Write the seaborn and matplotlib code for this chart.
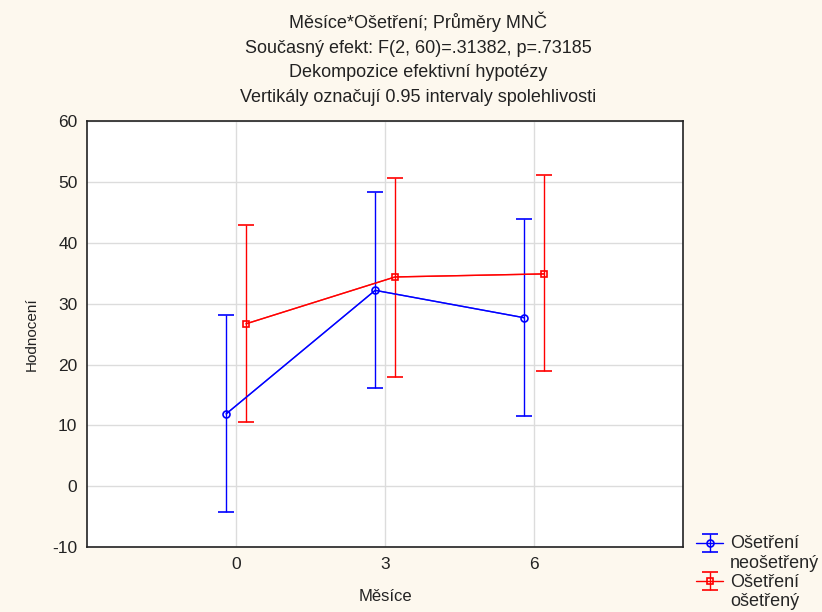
import pandas as pd
import matplotlib
matplotlib.use('Agg')
import matplotlib.pyplot as plt
import seaborn as sns

# ===== Data =====
mesice = [0, 3, 6]
neo_mean = [11.9, 32.2, 27.7]
neo_low = [-4.2, 16.1, 11.5]
neo_high = [28.1, 48.4, 43.9]
ose_mean = [26.7, 34.4, 34.9]
ose_low = [10.6, 18.0, 18.9]
ose_high = [42.9, 50.6, 51.2]

skupiny = ['neošetřený', 'ošetřený']
barvy = {'neošetřený': '#0000ff', 'ošetřený': '#ff0000'}
znacky = {'neošetřený': 'o', 'ošetřený': 's'}
posun = {'neošetřený': -0.2, 'ošetřený': 0.2}

df = pd.concat([
    pd.DataFrame({'Měsíce': mesice, 'mean': neo_mean, 'low': neo_low, 'high': neo_high, 'skupina': 'neošetřený'}),
    pd.DataFrame({'Měsíce': mesice, 'mean': ose_mean, 'low': ose_low, 'high': ose_high, 'skupina': 'ošetřený'}),
], ignore_index=True)
df['x'] = df['Měsíce'] + df['skupina'].map(posun)

# ===== Styl =====
sns.set_style('white')
plt.rcParams['font.family'] = ['Liberation Sans', 'DejaVu Sans']
plt.rcParams['axes.unicode_minus'] = False
bg = '#fdf8ee'

fig = plt.figure(figsize=(8.22, 6.12), dpi=100, facecolor=bg)
ax = fig.add_axes([0.106, 0.106, 0.725, 0.696])
ax.set_facecolor('white')

handles = []
for sk in skupiny:
    d = df[df['skupina'] == sk]
    sns.lineplot(data=d, x='x', y='mean', color=barvy[sk], lw=1, alpha=0.75,
                 ax=ax, legend=False, zorder=3)
    eb = ax.errorbar(d['x'], d['mean'],
                     yerr=[d['mean'] - d['low'], d['high'] - d['mean']],
                     fmt=znacky[sk], color=barvy[sk], mfc='none', mec=barvy[sk],
                     ms=5, mew=1.2, elinewidth=1, capsize=6, capthick=1.2,
                     linestyle='-', lw=1, zorder=4)
    handles.append(eb)

ax.set_xlim(-3, 9)
ax.set_ylim(-10, 60)
ax.set_xticks(mesice)
ax.set_yticks(range(-10, 61, 10))
ax.grid(True, color='#dcdcdc', lw=1)
ax.set_axisbelow(True)
for s in ax.spines.values():
    s.set_color('#222222')
    s.set_linewidth(1.2)
ax.tick_params(labelsize=12.5, length=3, direction='in', pad=7,
               colors='#222222', labelcolor='#222222')
ax.set_xlabel('Měsíce', fontsize=12, labelpad=12, color='#222222')
ax.set_ylabel('Hodnocení', fontsize=11, labelpad=10, color='#222222')

titulek = ('Měsíce*Ošetření; Průměry MNČ\n'
           'Současný efekt: F(2, 60)=.31382, p=.73185\n'
           'Dekompozice efektivní hypotézy\n'
           'Vertikály označují 0.95 intervaly spolehlivosti')
fig.text(0.509, 0.981, titulek, ha='center', va='top', fontsize=13,
         linespacing=1.58, color='#222222')

leg = fig.legend(handles, ['Ošetření\nneošetřený', 'Ošetření\nošetřený'],
                 loc='lower left', bbox_to_anchor=(0.845, 0.0), frameon=False,
                 borderaxespad=0, borderpad=0.1,
                 fontsize=13, handlelength=1.5, handleheight=1.2,
                 handletextpad=0.35, labelspacing=0.1)
# značka legendy zarovnaná k prvnímu řádku popisku
for col in leg._legend_handle_box.get_children():
    for item in col.get_children():
        item.align = 'top'

fig.savefig('out.png', dpi=100, facecolor=bg)
